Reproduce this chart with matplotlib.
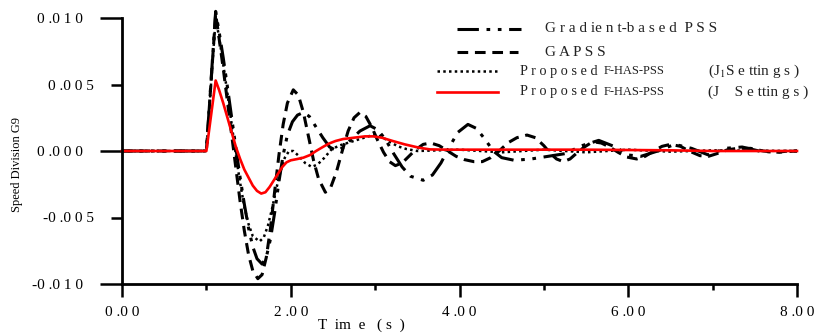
import matplotlib
matplotlib.use("Agg")
import matplotlib.pyplot as plt
from matplotlib.lines import Line2D

plt.rcParams["font.family"] = ["Liberation Serif", "DejaVu Serif"]
plt.rcParams["mathtext.fontset"] = "stix"

# ── data (speed deviation x 1e-3) ────────────────────────────────────────────
t_grad = [0, 1.00, 1.11, 1.15, 1.20, 1.25, 1.30, 1.35, 1.40, 1.45, 1.50, 1.55,
          1.60, 1.66, 1.71, 1.76, 1.81, 1.86, 1.91, 1.96, 2.02, 2.08, 2.15,
          2.22, 2.30, 2.38, 2.46, 2.55, 2.63, 2.72, 2.82, 2.94, 3.03, 3.12,
          3.22, 3.32, 3.42, 3.57, 3.68, 3.78, 3.88, 3.98, 4.10, 4.20, 4.30,
          4.40, 4.50, 4.65, 4.85, 5.05, 5.25, 5.45, 5.65, 5.85, 6.00, 6.15,
          6.35, 6.55, 6.75, 6.95, 7.15, 7.35, 7.55, 7.75, 8.00]
v_grad = [0, 0, 10.5, 9.0, 7.0, 4.8, 2.5, 0.2, -2.0, -4.0, -5.8, -7.2,
          -8.1, -8.5, -8.0, -6.6, -4.6, -2.3, -0.3, 1.2, 2.2, 2.7, 2.9,
          2.6, 1.8, 1.0, 0.3, 0.0, 0.3, 0.9, 1.5, 1.9, 1.6, 0.9,
          -0.2, -1.2, -1.9, -2.2, -1.8, -0.9, 0.3, 1.4, 2.0, 1.7, 0.9,
          0.0, -0.5, -0.7, -0.6, -0.4, -0.2, 0.4, 0.8, 0.3, -0.3, -0.4,
          0.0, 0.5, 0.2, -0.3, 0.2, 0.3, 0.0, -0.1, 0.0]

t_ga = [0, 1.00, 1.11, 1.15, 1.20, 1.25, 1.30, 1.35, 1.40, 1.45, 1.50, 1.55,
        1.61, 1.66, 1.71, 1.76, 1.81, 1.86, 1.91, 1.96, 2.03, 2.09, 2.15,
        2.21, 2.27, 2.33, 2.41, 2.47, 2.54, 2.61, 2.68, 2.75, 2.82, 2.89,
        2.96, 3.03, 3.10, 3.17, 3.24, 3.32, 3.40, 3.48, 3.57, 3.66, 3.76,
        3.86, 3.96, 4.06, 4.17, 4.27, 4.37, 4.47, 4.57, 4.68, 4.80, 4.90,
        5.00, 5.08, 5.15, 5.23, 5.31, 5.40, 5.48, 5.58, 5.68, 5.78, 5.88,
        5.98, 6.10, 6.20, 6.30, 6.40, 6.50, 6.62, 6.72, 6.85, 6.95, 7.05,
        7.18, 7.30, 7.45, 7.60, 7.75, 7.90, 8.00]
v_ga = [0, 0, 10.3, 8.5, 6.2, 3.7, 1.2, -1.3, -3.8, -6.0, -7.8, -9.0,
        -9.6, -9.3, -8.0, -5.8, -3.0, -0.3, 2.0, 3.6, 4.6, 4.2, 2.9,
        1.1, -0.7, -2.1, -3.1, -2.8, -1.6, 0.0, 1.5, 2.5, 2.9, 2.6,
        1.8, 0.8, -0.1, -0.8, -1.1, -0.9, -0.4, 0.1, 0.5, 0.6, 0.4,
        0.0, -0.4, -0.65, -0.8, -0.8, -0.5, 0.0, 0.6, 1.0, 1.2, 1.0,
        0.4, -0.2, -0.6, -0.8, -0.6, -0.1, 0.3, 0.7, 0.6, 0.3, -0.1,
        -0.45, -0.6, -0.4, 0.0, 0.35, 0.5, 0.35, 0.0, -0.35, -0.4, -0.2,
        0.1, 0.2, 0.2, 0.0, -0.1, 0.0, 0.0]

t_j1 = [0, 1.00, 1.11, 1.15, 1.20, 1.25, 1.30, 1.35, 1.40, 1.45, 1.50, 1.55,
        1.63, 1.68, 1.73, 1.78, 1.83, 1.88, 1.93, 1.98, 2.03, 2.10, 2.17,
        2.25, 2.32, 2.40, 2.48, 2.57, 2.67, 2.77, 2.87, 2.97, 3.07, 3.17,
        3.27, 3.37, 3.50, 4.00, 4.50, 5.00, 5.50, 6.00, 6.50, 7.00, 8.00]
v_j1 = [0, 0, 10.0, 8.6, 6.5, 4.3, 2.0, -0.3, -2.4, -4.2, -5.5, -6.4,
        -6.8, -6.5, -5.6, -4.3, -2.8, -1.5, -0.5, 0.0, 0.0, -0.4, -0.9,
        -1.2, -1.0, -0.5, 0.1, 0.4, 0.6, 0.8, 1.0, 1.2, 1.1, 0.7,
        0.35, 0.15, 0.0, 0.1, -0.1, 0.1, -0.1, 0.1, -0.05, 0.05, 0.0]

t_j = [0, 1.00, 1.11, 1.15, 1.20, 1.25, 1.30, 1.35, 1.40, 1.45, 1.50, 1.55,
       1.60, 1.65, 1.70, 1.75, 1.80, 1.85, 1.90, 1.95, 2.00, 2.08, 2.15,
       2.23, 2.30, 2.38, 2.45, 2.53, 2.62, 2.75, 2.88, 2.98, 3.08, 3.21,
       3.35, 3.52, 3.65, 3.85, 4.50, 5.50, 6.50, 7.00, 8.00]
v_j = [0, 0, 5.3, 4.6, 3.6, 2.5, 1.4, 0.3, -0.6, -1.4, -2.0, -2.6,
       -3.0, -3.2, -3.1, -2.7, -2.2, -1.7, -1.2, -0.85, -0.7, -0.6, -0.5,
       -0.3, 0.0, 0.3, 0.55, 0.75, 0.9, 1.0, 1.1, 1.1, 1.0, 0.75,
       0.5, 0.25, 0.12, 0.1, 0.1, 0.1, 0.05, 0.0, 0.0]

x_major = [0, 2, 4, 6, 8]
x_labels = ["0 .0 0", "2 .0 0", "4 .0 0", "6 .0 0", "8 .0 0"]
y_major = [-0.010, 0.0, 0.010]
y_major_labels = ["-0 .0 1 0", "0 .0 0 0", "0 .0 1 0"]
y_minor = [-0.005, 0.005]
y_minor_labels = ["-0 .0 0 5", "0 .0 0 5"]

W, H = 819, 335
fig = plt.figure(figsize=(W / 100, H / 100), dpi=100)
ax = fig.add_axes([122 / W, 1 - 284 / H, (797 - 122) / W, (284 - 18) / H])


def scale(v):
    return [x * 1e-3 for x in v]


ls_grad = (0, (7, 2.5, 1.2, 2.5, 1.2, 2.5))
ls_ga = (0, (3.5, 2.2))
ls_j1 = (0, (1, 1.3))

ax.plot(t_grad, scale(v_grad), color="black", lw=2.2, ls=ls_grad, clip_on=False)
ax.plot(t_ga, scale(v_ga), color="black", lw=2.2, ls=ls_ga, clip_on=False)
ax.plot(t_j1, scale(v_j1), color="black", lw=1.8, ls=ls_j1, clip_on=False)
ax.plot(t_j, scale(v_j), color="red", lw=1.9, clip_on=False)

ax.set_xlim(0, 8)
ax.set_ylim(-0.010, 0.010)
for s in ["top", "right"]:
    ax.spines[s].set_visible(False)
for s in ["left", "bottom"]:
    ax.spines[s].set_linewidth(2)

ax.set_xticks(x_major)
ax.set_xticklabels(x_labels, fontsize=11)
ax.set_xticks([1, 3, 5, 7], minor=True)
ax.set_yticks(y_major)
ax.set_yticklabels(y_major_labels, fontsize=11)
ax.set_yticks(y_minor, minor=True)
ax.set_yticklabels(y_minor_labels, minor=True, fontsize=11)

ax.tick_params(axis="x", which="major", direction="out", length=9.5, width=1.8, pad=6)
ax.tick_params(axis="x", which="minor", direction="out", length=4.5, width=1.8)
ax.tick_params(axis="y", which="major", direction="out", length=16, width=1.8, pad=12)
ax.tick_params(axis="y", which="minor", direction="out", length=8, width=1.8, pad=12)

fig.text(17 / W, 1 - 165 / H, "Speed Division G9", rotation=90, fontsize=9,
         ha="center", va="center")
fig.text(361 / W, 1 - 325 / H, "T  im  e   ( s  )", fontsize=11,
         ha="center", va="center")

# ── hand-drawn legend ─────────────────────────────────────────────────────────
def px(x, y):
    return x / W, 1 - y / H


legend_rows = [
    (457, 521, 29, dict(color="black", lw=2.2, ls=ls_grad),
     [(545, "G r a d ie n t-b a s e d  P S S", 11)]),
    (457, 518, 52, dict(color="black", lw=2.2, ls=ls_ga),
     [(545, "G A P S S", 11)]),
    (437, 497, 71, dict(color="black", lw=1.8, ls=ls_j1),
     [(520, "P r o p o s e d", 10.3), (604, "F-HAS-PSS", 9),
      (708, "(J$_1$S e ttin g s )", 11)]),
    (437, 498, 92, dict(color="red", lw=1.9),
     [(520, "P r o p o s e d", 10.3), (604, "F-HAS-PSS", 9),
      (708, "(J    S e ttin g s )", 11)]),
]
for x0, x1, y, style, texts in legend_rows:
    a, b = px(x0, y)
    c, _ = px(x1, y)
    fig.add_artist(Line2D([a, c], [b, b], transform=fig.transFigure, **style))
    for tx, label, fs in texts:
        fig.text(tx / W, b, label, fontsize=fs, ha="left", va="center",
                 color="#222222")

plt.savefig("out.png", dpi=100)
plt.close()
